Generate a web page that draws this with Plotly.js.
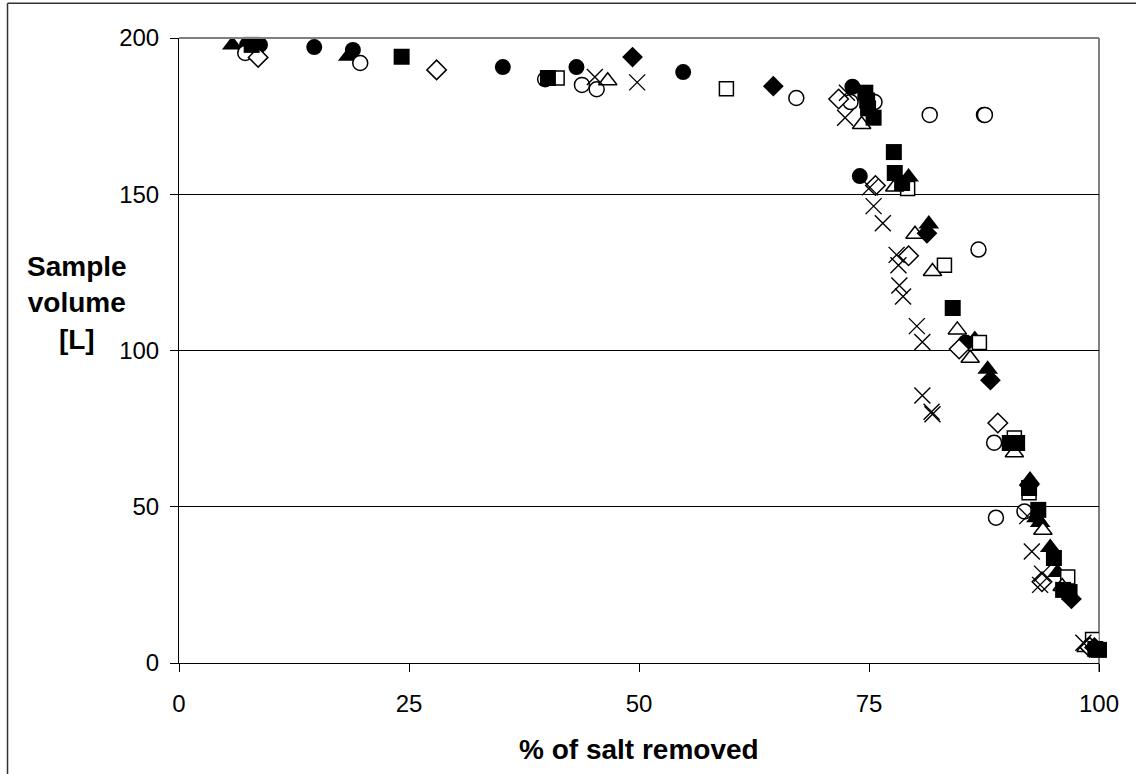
<!DOCTYPE html>
<html>
<head>
<meta charset="utf-8">
<script src="https://cdn.plot.ly/plotly-3.0.1.min.js"></script>
<style>
html,body{margin:0;padding:0;background:#fff;}
#chart{width:1136px;height:774px;}
</style>
</head>
<body>
<div id="chart"></div>
<script>
// ---- data ----
const filledCircleX = [7.4, 8.8, 14.7, 18.9, 35.2, 43.2, 54.8, 73.2, 74.0, 85.5];
const filledCircleY = [197.8, 197.8, 197.1, 196.2, 190.7, 190.7, 189.1, 184.4, 155.8, 102.6];

const filledSquareX = [7.9, 24.2, 40.1, 74.6, 74.8, 74.9, 75.5, 77.7, 77.8, 78.6, 84.1, 90.3, 91.1, 92.4, 93.4, 95.1, 96.1, 96.8, 99.6, 100.0];
const filledSquareY = [197.8, 194.0, 187.2, 182.5, 180.0, 177.5, 174.5, 163.5, 156.8, 153.6, 113.6, 70.4, 70.4, 56.0, 49.0, 33.6, 23.4, 22.7, 4.5, 4.2];

const filledTriangleX = [5.8, 18.4, 79.3, 81.5, 86.5, 87.9, 92.5, 93.2, 93.6, 94.7, 95.5, 99.3];
const filledTriangleY = [197.8, 194.2, 155.5, 140.5, 103.5, 94.0, 58.6, 46.5, 45.0, 37.0, 29.0, 6.0];

const filledDiamondX = [49.3, 64.6, 81.3, 88.2, 92.4, 97.0, 99.5];
const filledDiamondY = [193.9, 184.6, 137.5, 90.5, 57.0, 20.5, 5.0];

const openCircleX = [7.2, 19.7, 39.8, 43.8, 45.4, 67.1, 73.0, 75.6, 81.6, 87.5, 87.6, 86.9, 88.6, 88.8, 91.9];
const openCircleY = [195.2, 192.0, 186.8, 185.0, 183.6, 180.8, 179.5, 179.5, 175.4, 175.4, 175.4, 132.3, 70.5, 46.5, 48.5];

const openSquareX = [41.1, 59.5, 79.2, 83.2, 87.0, 90.8, 92.4, 96.6, 99.3];
const openSquareY = [187.2, 183.8, 151.8, 127.3, 102.6, 72.0, 54.5, 27.5, 7.5];

const openTriangleX = [46.6, 74.2, 77.8, 80.0, 81.9, 84.6, 86.0, 90.8, 93.9, 96.0, 98.6];
const openTriangleY = [186.3, 172.3, 152.3, 137.2, 125.3, 106.6, 97.5, 67.3, 42.5, 24.5, 5.0];

const openDiamondX = [8.6, 28.0, 71.7, 75.7, 79.3, 84.8, 89.0, 93.8, 99.0];
const openDiamondY = [193.8, 189.8, 180.5, 152.8, 130.3, 100.5, 76.8, 26.0, 5.0];

const crossX = [45.2, 49.8, 72.6, 72.4, 75.1, 75.5, 76.5, 78.0, 78.2, 78.3, 78.7, 80.2, 80.8, 80.8, 81.8, 81.9, 92.2, 92.7, 93.8, 93.6, 98.3];
const crossY = [187.5, 185.8, 182.5, 174.5, 152.2, 146.2, 140.7, 130.6, 127.3, 120.8, 117.3, 107.8, 102.7, 85.6, 80.4, 79.6, 47.0, 35.7, 28.6, 25.0, 6.5];

const xTicks = [0, 25, 50, 75, 100];
const yTicks = [0, 50, 100, 150, 200];

// ---- traces ----
function filled(x, y, symbol, size) {
  return {x: x, y: y, type: 'scatter', mode: 'markers', showlegend: false, hoverinfo: 'x+y',
    marker: {symbol: symbol, size: size, color: '#000', line: {width: 0}}};
}
function open(x, y, symbol, size) {
  return {x: x, y: y, type: 'scatter', mode: 'markers', showlegend: false, hoverinfo: 'x+y',
    marker: {symbol: symbol, size: size, color: '#fff', line: {width: 1.5, color: '#000'}}};
}
const squares = filled(filledSquareX, filledSquareY, 'square', 16);
squares.cliponaxis = false;
const traces = [
  filled(filledCircleX, filledCircleY, 'circle', 16),
  filled(filledTriangleX, filledTriangleY, 'triangle-up', 18),
  open(openCircleX, openCircleY, 'circle', 15),
  open(openSquareX, openSquareY, 'square', 14),
  open(openTriangleX, openTriangleY, 'triangle-up', 16),
  open(openDiamondX, openDiamondY, 'diamond', 15),
  {x: crossX, y: crossY, type: 'scatter', mode: 'markers', showlegend: false, hoverinfo: 'x+y',
    marker: {symbol: 'x-thin-open', size: 16, color: '#000', line: {width: 1.4, color: '#000'}}},
  filled(filledDiamondX, filledDiamondY, 'diamond', 16),
  squares
];

const font = 'Liberation Sans, Arial, sans-serif';
const layout = {
  width: 1136, height: 774,
  margin: {l: 179, r: 37, t: 38, b: 111},
  paper_bgcolor: '#fff', plot_bgcolor: '#fff',
  font: {family: font, color: '#000', size: 24},
  xaxis: {
    range: [0, 100], tickvals: xTicks, ticktext: xTicks.map(String),
    ticks: 'outside', ticklen: 8, tickcolor: '#000', tickwidth: 1,
    showline: true, linecolor: '#000', linewidth: 1,
    showgrid: false, zeroline: false, fixedrange: true, ticklabelstandoff: 11,
    tickfont: {family: font, size: 24, color: '#000'}
  },
  yaxis: {
    range: [0, 200], tickvals: yTicks, ticktext: yTicks.map(String),
    ticks: 'outside', ticklen: 8, tickcolor: '#000', tickwidth: 1,
    showline: true, linecolor: '#000', linewidth: 1,
    showgrid: true, gridcolor: '#000', gridwidth: 1,
    zeroline: false, fixedrange: true, ticklabelstandoff: 6,
    tickfont: {family: font, size: 24, color: '#000'}
  },
  shapes: [
    {type: 'line', xref: 'paper', yref: 'paper', x0: 0, x1: 1, y0: 1, y1: 1, line: {color: '#808080', width: 2}, layer: 'above'},
    {type: 'line', xref: 'paper', yref: 'paper', x0: 1, x1: 1, y0: -0.014, y1: 1, line: {color: '#808080', width: 2}, layer: 'below'},
    {type: 'line', xref: 'paper', yref: 'paper', x0: -0.1864, x1: 1.1, y0: 1.0555, y1: 1.0555, line: {color: '#333', width: 1.5}, layer: 'above'},
    {type: 'line', xref: 'paper', yref: 'paper', x0: -0.1864, x1: -0.1864, y0: -0.3, y1: 1.0555, line: {color: '#333', width: 1.5}, layer: 'above'}
  ],
  annotations: [
    {text: '<b>Sample<br>volume<br>[L]</b>', xref: 'paper', yref: 'paper', x: -0.111, y: 0.576,
      xanchor: 'center', yanchor: 'middle', showarrow: false, align: 'center',
      font: {family: font, size: 28, color: '#000'}},
    {text: '<b>% of salt removed</b>', xref: 'paper', yref: 'paper', x: 0.5, y: -0.139,
      xanchor: 'center', yanchor: 'middle', showarrow: false,
      font: {family: font, size: 28, color: '#000'}}
  ]
};

Plotly.newPlot('chart', traces, layout, {displayModeBar: false, staticPlot: true});
</script>
</body>
</html>
